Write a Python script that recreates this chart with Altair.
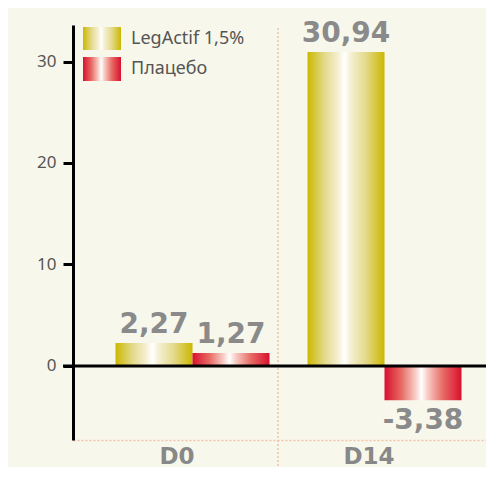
import altair as alt
import pandas as pd

categories = ["D0", "D14"]
series_names = ["LegActif 1,5%", "Плацебо"]
legactif_values = [2.27, 30.94]
placebo_values = [1.27, -3.38]
y_ticks = [0, 10, 20, 30]

rows = []
for i, c in enumerate(categories):
    rows.append({"cat": c, "series": series_names[0], "value": legactif_values[i]})
    rows.append({"cat": c, "series": series_names[1], "value": placebo_values[i]})
df = pd.DataFrame(rows)
df["label"] = df["value"].map(lambda v: f"{v:.2f}".replace(".", ","))

W, H = 413, 415
BG = "#f7f8eb"
DASH = "#f0c0a8"


def grad(edge, c1, c2):
    return {
        "gradient": "linear", "x1": 0, "y1": 0, "x2": 1, "y2": 0,
        "stops": [
            {"offset": 0, "color": edge},
            {"offset": 0.22, "color": c1},
            {"offset": 0.40, "color": c2},
            {"offset": 0.48, "color": "#ffffff"},
            {"offset": 0.56, "color": c2},
            {"offset": 0.76, "color": c1},
            {"offset": 1, "color": edge},
        ],
    }


gold = grad("#cbb800", "#e3d98a", "#f5f0d3")
red = grad("#d9102e", "#e76a64", "#f7cdc5")

x_axis = alt.Axis(title=None, labelAngle=0, ticks=False, domainColor=DASH, domainDash=[2, 2],
                  domainWidth=1.5, labelFont="DejaVu Sans", labelFontWeight="bold",
                  labelFontSize=23, labelColor="#888888", labelPadding=5)
x_scale = alt.Scale(domain=categories, paddingInner=0, paddingOuter=0.0755, align=0.276)
x_enc = alt.X("cat:N", sort=categories, scale=x_scale, axis=x_axis)
xo_enc = alt.XOffset(
    "series:N", sort=series_names,
    scale=alt.Scale(domain=series_names, range=[34.5, 188.5], paddingInner=0, paddingOuter=0),
)
y_enc = alt.Y(
    "value:Q",
    scale=alt.Scale(domain=[-7.3, 33.6], nice=False, zero=False),
    axis=alt.Axis(title=None, values=y_ticks, grid=False, domainColor="black", domainWidth=3,
                  tickColor="black", tickWidth=3, tickSize=10, labelFont="Noto Sans",
                  labelFontSize=17, labelColor="#555555", labelPadding=7),
)

base = alt.Chart(df)

bars_gold = base.transform_filter(alt.datum.series == series_names[0]).mark_bar(
    fill=gold).encode(x=x_enc, xOffset=xo_enc, y=y_enc)
bars_red = base.transform_filter(alt.datum.series == series_names[1]).mark_bar(
    fill=red).encode(x=x_enc, xOffset=xo_enc, y=y_enc)

txt_pos = base.transform_filter(alt.datum.value >= 0).mark_text(
    baseline="alphabetic", dy=-10, font="DejaVu Sans", fontWeight="bold", fontSize=28,
    color="#8a8a8a").encode(x=x_enc, xOffset=xo_enc, y=y_enc, text="label:N")
txt_neg = base.transform_filter(alt.datum.value < 0).mark_text(
    baseline="top", dy=7, font="DejaVu Sans", fontWeight="bold", fontSize=28,
    color="#8a8a8a").encode(x=x_enc, xOffset=xo_enc, y=y_enc, text="label:N")

zero = alt.Chart(pd.DataFrame({"value": [0]})).mark_rule(color="black", strokeWidth=3).encode(
    y=y_enc, x=alt.value(-10), x2=alt.value(W))

vsep = alt.Chart(pd.DataFrame({"cat": [categories[1]]})).mark_rule(
    color=DASH, strokeDash=[2, 2], strokeWidth=1.5).encode(
    x=alt.X("cat:N", sort=categories, bandPosition=0.026, scale=x_scale, axis=x_axis),
    y=alt.value(3), y2=alt.value(H + 40))

leg_data = pd.DataFrame({"series": series_names})
leg_gold = alt.Chart(leg_data.iloc[[0]]).mark_rect(fill=gold).encode(
    x=alt.value(10), x2=alt.value(48), y=alt.value(2), y2=alt.value(25))
leg_red = alt.Chart(leg_data.iloc[[1]]).mark_rect(fill=red).encode(
    x=alt.value(10), x2=alt.value(48), y=alt.value(32), y2=alt.value(56))
leg_t1 = alt.Chart(leg_data.iloc[[0]]).mark_text(
    align="left", baseline="middle", font="Noto Sans", fontSize=18, color="#555555").encode(
    x=alt.value(58), y=alt.value(14), text="series:N")
leg_t2 = alt.Chart(leg_data.iloc[[1]]).mark_text(
    align="left", baseline="middle", font="Noto Sans", fontSize=18, color="#555555").encode(
    x=alt.value(58), y=alt.value(44), text="series:N")

chart = alt.layer(
    vsep, bars_gold, bars_red, zero, txt_pos, txt_neg, leg_gold, leg_red, leg_t1, leg_t2
).properties(
    width=W, height=H, background=BG,
    padding={"left": 65, "top": 17, "right": 0, "bottom": 27},
    autosize=alt.AutoSizeParams(type="none"),
).configure_view(stroke=None)

chart.save("out.html", embed_options={"renderer": "svg", "actions": False})
